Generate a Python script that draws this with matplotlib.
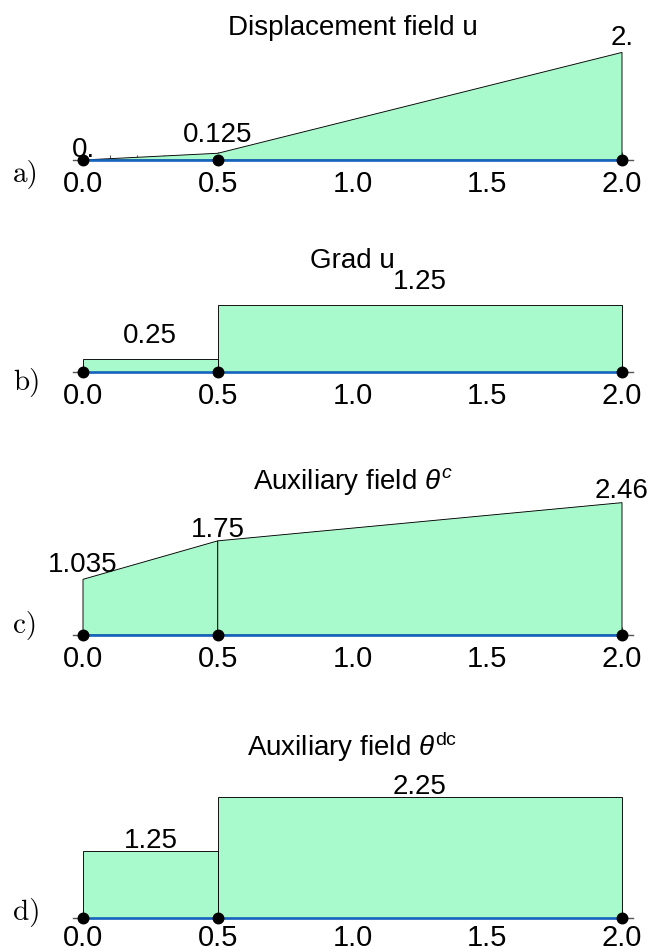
import matplotlib
matplotlib.use("Agg")
import matplotlib.pyplot as plt
from matplotlib.ticker import MultipleLocator
import numpy as np

plt.rcParams["font.family"] = ["Liberation Sans", "DejaVu Sans"]
plt.rcParams["mathtext.fontset"] = "custom"
plt.rcParams["mathtext.rm"] = "Liberation Sans"
plt.rcParams["mathtext.it"] = "Liberation Sans:italic"

# Mesh nodes (two elements: [0, 0.5] and [0.5, 2])
x_nodes = [0.0, 0.5, 2.0]

# a) nodal displacement
u_vals = [0.0, 0.125, 2.0]
# b) element-wise gradient
grad_vals = [0.25, 1.25]
# c) continuous-per-element auxiliary field (left/right values per element)
theta_c_elem1 = [1.035, 1.75]
theta_c_elem2 = [1.75, 2.46]
# d) discontinuous (constant per element) auxiliary field
theta_dc_vals = [1.25, 2.25]

titles = ["Displacement field u", "Grad u",
          r"Auxiliary field $\theta^{c}$", r"Auxiliary field $\theta^{\mathrm{dc}}$"]
panel_tags = ["a)", "b)", "c)", "d)"]
tick_labels = ["0.0", "0.5", "1.0", "1.5", "2.0"]

W, H = 663, 951
fig = plt.figure(figsize=(W / 100, H / 100), dpi=100)

FILL = "#a8f9cb"
BLUE = "#1565c0"
PX_PER_UNIT_X = 269.5
PX_PER_UNIT_Y = 53.8
X0_PX = 83
AX_LEFT_PX, AX_RIGHT_PX = 73, 633
TICK_FS = 21
VALUE_FS = 20
TITLE_FS = 20
TAG_FS = 21

axis_rows = [160, 372, 635, 918]
label_pads = [7, 7, 7, 4]
title_base = [35, 268, 489, 756]
tag_base = [182, 390, 633, 920]
PT = 72 / 100  # points per pixel


def fmt(v):
    return f"{int(v)}." if float(v).is_integer() else f"{v:g}"


def make_axes(axis_px, pad, height_px=150):
    left = AX_LEFT_PX / W
    width = (AX_RIGHT_PX - AX_LEFT_PX) / W
    bottom = 1 - axis_px / H
    ax = fig.add_axes([left, bottom, width, height_px / H])
    ax.set_xlim((AX_LEFT_PX - X0_PX) / PX_PER_UNIT_X,
                (AX_RIGHT_PX - X0_PX) / PX_PER_UNIT_X)
    ax.set_ylim(0, height_px / PX_PER_UNIT_Y)
    ax.patch.set_alpha(0)
    for s in ("left", "right", "top"):
        ax.spines[s].set_visible(False)
    ax.spines["bottom"].set_color("#555555")
    ax.spines["bottom"].set_linewidth(1.0)
    ax.set_yticks([])
    ax.xaxis.set_major_locator(MultipleLocator(0.5))
    ax.xaxis.set_minor_locator(MultipleLocator(0.1))
    ax.set_xticks(np.arange(0, 2.01, 0.5))
    ax.set_xticklabels(tick_labels)
    ax.tick_params(axis="x", which="major", direction="in", length=8 * PT,
                   width=0.8, color="#555555", labelsize=TICK_FS, pad=pad)
    ax.tick_params(axis="x", which="minor", direction="in", length=5 * PT,
                   width=0.8, color="#555555")
    return ax


def finish(ax):
    ax.plot([x_nodes[0], x_nodes[-1]], [0, 0], color=BLUE, lw=2.6 * PT,
            solid_capstyle="butt", zorder=4, clip_on=False)
    ax.plot(x_nodes, np.zeros(len(x_nodes)), "o", color="black", ms=10.5 * PT,
            zorder=5, clip_on=False)


def label(ax, x, y, text, gap_px):
    ax.annotate(text, (x, y), xytext=(0, gap_px * PT), textcoords="offset points",
                ha="center", va="baseline", fontsize=VALUE_FS, zorder=6,
                annotation_clip=False)


edge_kw = dict(edgecolor="black", linewidth=0.9 * PT, zorder=2)

# a) displacement: piecewise linear
ax = make_axes(axis_rows[0], label_pads[0])
xs = [x_nodes[0]] + x_nodes + [x_nodes[-1]]
ys = [0.0] + u_vals + [0.0]
ax.fill(xs, ys, facecolor=FILL, **edge_kw)
label(ax, x_nodes[0], u_vals[0], fmt(u_vals[0]), 3)
label(ax, x_nodes[1], u_vals[1], fmt(u_vals[1]), 11)
label(ax, x_nodes[2], u_vals[2], fmt(u_vals[2]), 7)
finish(ax)

# b) gradient: constant per element
ax = make_axes(axis_rows[1], label_pads[1])
widths = np.diff(x_nodes)
ax.bar(x_nodes[:-1], grad_vals, width=widths, align="edge", facecolor=FILL, **edge_kw)
for xl, w, v in zip(x_nodes[:-1], widths, grad_vals):
    label(ax, xl + w / 2, v, fmt(v), 16)
finish(ax)

# c) theta^c: linear per element
ax = make_axes(axis_rows[2], label_pads[2])
for (xa, xb), (va, vb) in zip([(x_nodes[0], x_nodes[1]), (x_nodes[1], x_nodes[2])],
                              [theta_c_elem1, theta_c_elem2]):
    ax.fill([xa, xa, xb, xb], [0, va, vb, 0], facecolor=FILL, **edge_kw)
label(ax, x_nodes[0], theta_c_elem1[0], fmt(theta_c_elem1[0]), 7)
label(ax, x_nodes[1], theta_c_elem1[1], fmt(theta_c_elem1[1]), 4)
label(ax, x_nodes[2], theta_c_elem2[1], fmt(theta_c_elem2[1]), 5)
finish(ax)

# d) theta^dc: constant per element
ax = make_axes(axis_rows[3], label_pads[3])
ax.bar(x_nodes[:-1], theta_dc_vals, width=widths, align="edge", facecolor=FILL, **edge_kw)
for xl, w, v in zip(x_nodes[:-1], widths, theta_dc_vals):
    label(ax, xl + w / 2, v, fmt(v), 3)
finish(ax)

# titles and panel tags
x_mid_px = X0_PX + 1.0 * PX_PER_UNIT_X
for t, tb in zip(titles, title_base):
    fig.text(x_mid_px / W, 1 - tb / H, t, ha="center", va="baseline", fontsize=TITLE_FS)
for tag, tb in zip(panel_tags, tag_base):
    fig.text(13 / W, 1 - tb / H, tag, ha="left", va="baseline", fontsize=TAG_FS,
             family="cmr10")

fig.savefig("out.png", dpi=100)
